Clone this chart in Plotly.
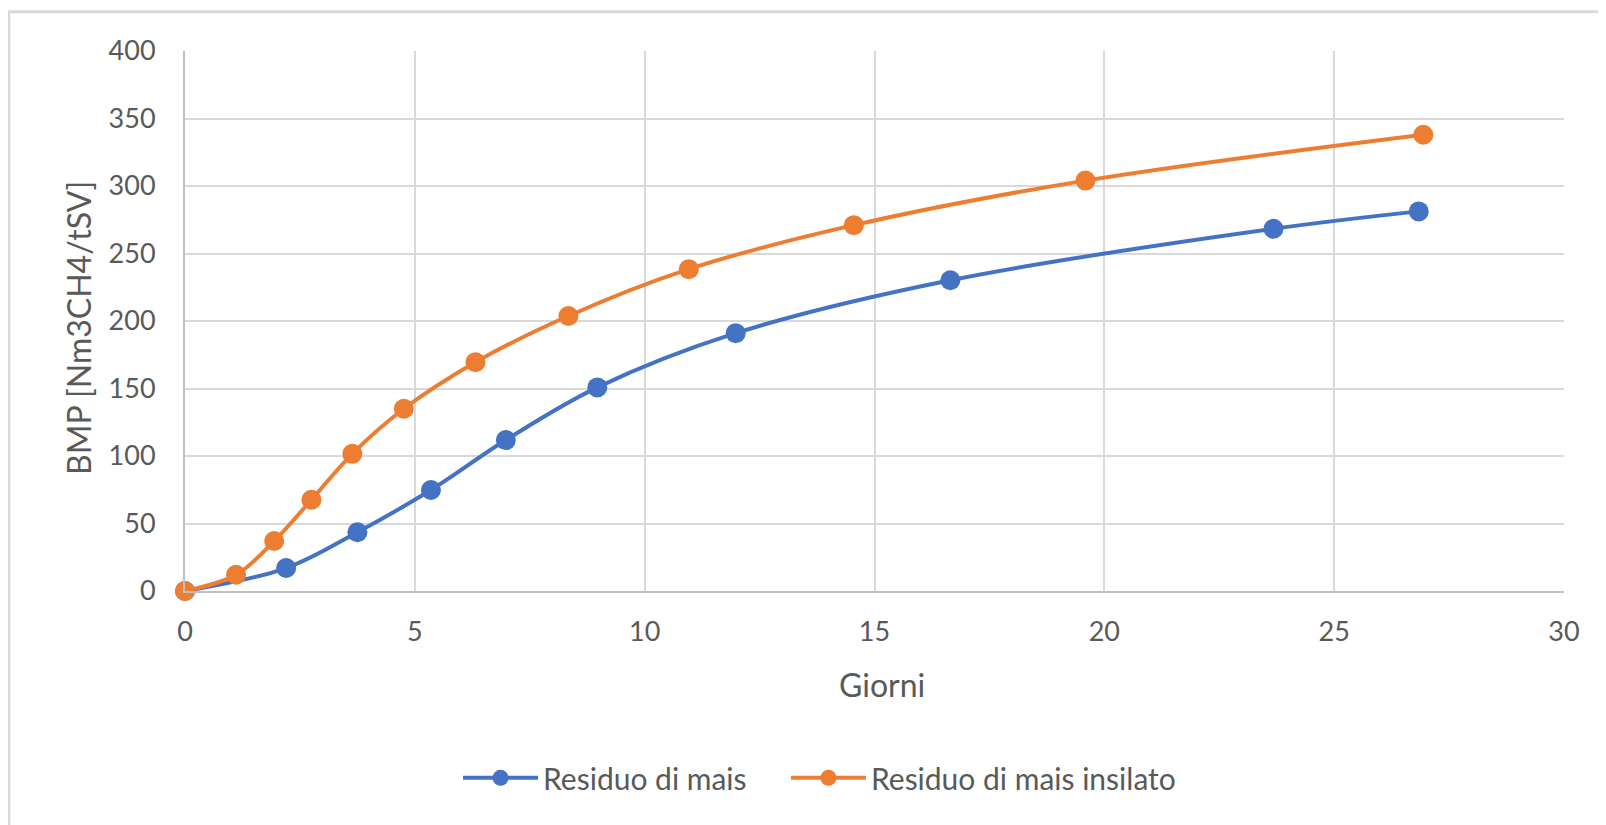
import plotly.graph_objects as go

# Residuo di mais
giorni_mais = [0, 2.2, 3.75, 5.35, 6.98, 8.97, 11.98, 16.65, 23.68, 26.84]
bmp_mais = [0, 17, 43.5, 74.8, 111.8, 150.8, 191, 230.2, 268.3, 281.2]

# Residuo di mais insilato
giorni_insilato = [0, 1.11, 1.94, 2.75, 3.64, 4.76, 6.32, 8.34, 10.96, 14.55, 19.59, 26.94]
bmp_insilato = [0, 12, 37, 67.6, 101.6, 135, 169.5, 203.7, 238.4, 271, 304, 338]

font_family = "Lato, Open Sans, sans-serif"
text_color = "#595959"

fig = go.Figure()
fig.add_trace(go.Scatter(
    x=giorni_mais, y=bmp_mais, name="Residuo di mais",
    mode="lines+markers", line=dict(color="#4472C4", width=4, shape="spline"),
    marker=dict(size=20, color="#4472C4"), cliponaxis=False,
    legend="legend",
))
fig.add_trace(go.Scatter(
    x=giorni_insilato, y=bmp_insilato, name="Residuo di mais insilato",
    mode="lines+markers", line=dict(color="#ED7D31", width=4, shape="spline"),
    marker=dict(size=20, color="#ED7D31"), cliponaxis=False,
    legend="legend2",
))

axis_common = dict(
    showgrid=True, gridcolor="#D9D9D9", gridwidth=2,
    showline=True, linecolor="#BFBFBF", linewidth=2,
    zeroline=False, ticks="",
    tickfont=dict(family=font_family, size=27, color=text_color),
)

legend_common = dict(
    orientation="h", xanchor="left", y=-0.346, yanchor="middle",
    font=dict(family=font_family, size=30, color=text_color),
    itemwidth=75,
)

# page body has an 8px margin, so the margins are shifted by that amount
fig.update_layout(
    width=1606, height=825,
    margin=dict(l=177, r=50, t=43, b=242),
    paper_bgcolor="white", plot_bgcolor="white",
    font=dict(family=font_family, size=27, color=text_color),
    xaxis=dict(range=[0, 30], dtick=5, ticklabelstandoff=16, **axis_common),
    yaxis=dict(range=[0, 400], dtick=50, ticklabelstandoff=22, **axis_common),
    showlegend=True,
    legend=dict(x=0.198, **legend_common),
    legend2=dict(x=0.4358, **legend_common),
    annotations=[
        dict(text="BMP [Nm3CH4/tSV]", xref="paper", yref="paper",
             x=-0.0776, y=0.487, textangle=-90, showarrow=False,
             xanchor="center", yanchor="middle",
             font=dict(family=font_family, size=32, color=text_color)),
        dict(text="Giorni", xref="paper", yref="paper",
             x=0.5054, y=-0.174, showarrow=False,
             xanchor="center", yanchor="middle",
             font=dict(family=font_family, size=32, color=text_color)),
    ],
    shapes=[
        dict(type="rect", xref="paper", yref="paper",
             x0=-0.1278, x1=1.05, y0=-0.47, y1=1.0728,
             line=dict(color="#D9D9D9", width=3), layer="below"),
    ],
)

fig.write_html("out.html")
